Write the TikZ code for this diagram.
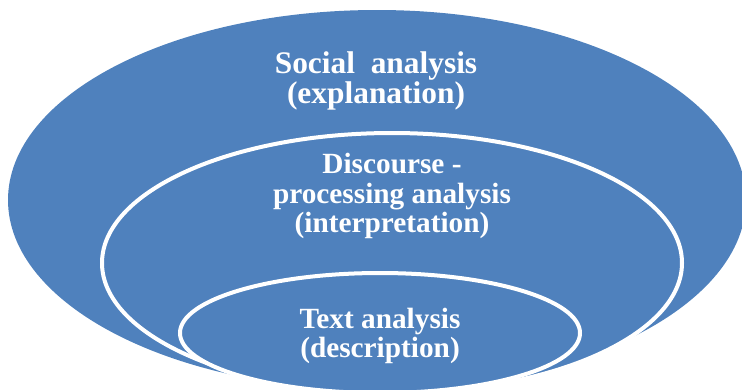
\documentclass[tikz,border=0pt]{standalone}
\usepackage{fontspec}
\setmainfont{Liberation Serif}
\begin{document}
\begin{tikzpicture}[x=1pt,y=-1pt,
  ring/.style={fill=ringblue,draw=white,line width=4pt},
  lbl/.style={text=white,inner sep=0pt,anchor=base,font=\fontsize{29.3}{29.3}\selectfont\bfseries},
  biglbl/.style={lbl,font=\fontsize{31.4}{31.4}\selectfont\bfseries}]
\definecolor{ringblue}{HTML}{4F81BD}
\useasboundingbox (0,0) rectangle (742,389);
\clip (0,0) rectangle (742,389);
% nested levels of analysis
\fill[ringblue] (377,200) ellipse [x radius=369, y radius=190];
\path[ring] (392,263) ellipse [x radius=290, y radius=130];
\path[ring] (380,333) ellipse [x radius=200, y radius=60];
% labels
\node[biglbl] (s1) at (376,73) {Social\ \ analysis};
\node[biglbl] (s2) at (376,103) {(explanation)};
\node[lbl] (d1) at (392,173) {Discourse -};
\node[lbl] (d2) at (392,203) {processing analysis};
\node[lbl] (d3) at (392,232) {(interpretation)};
\node[lbl] (t1) at (380,328) {Text analysis};
\node[lbl] (t2) at (380,357) {(description)};
\end{tikzpicture}
\end{document}
